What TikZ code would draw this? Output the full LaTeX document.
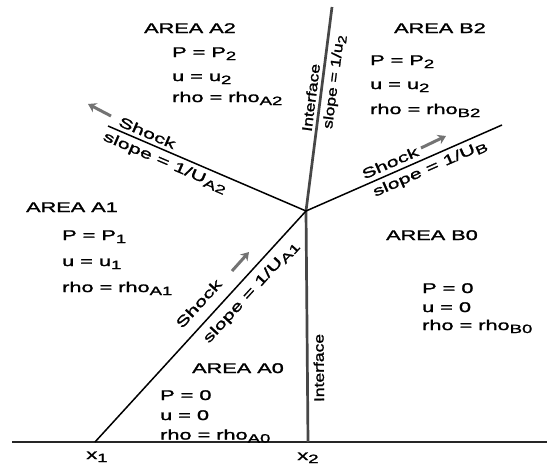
\documentclass[tikz,border=0pt]{standalone}
\usepackage{fontspec}
\setmainfont{Liberation Sans}
\newfontfamily\hfont[FakeStretch=1.55,FakeBold=1.6]{Liberation Sans}
\newfontfamily\vfont[FakeStretch=1.25,FakeBold=1.6]{Liberation Sans}
\usetikzlibrary{arrows.meta}
\newcommand{\sbs}[1]{\raisebox{-3pt}{\fontsize{12}{12}\selectfont #1}}
\begin{document}
\begin{tikzpicture}[x=1pt,y=-1pt,
  txt/.style={font=\hfont\fontsize{14}{16}\selectfont, inner sep=0pt, anchor=base west},
  ttl/.style={font=\hfont\fontsize{14}{16}\selectfont, inner sep=0pt, anchor=base},
  shockline/.style={line width=1.5pt, black},
  ifline/.style={line width=2.7pt, black!72},
  axisline/.style={line width=1.6pt, black!85},
  dirarrow/.style={line width=3pt, black!55, -{Stealth[length=8pt,width=10pt]}},
  slbl/.style={font=\hfont\fontsize{14}{16}\selectfont, sloped, text=black},
  vlbl/.style={font=\vfont\fontsize{14}{16}\selectfont, sloped, allow upside down, text=black},
]
\useasboundingbox (0,0) rectangle (547,471);
\fill[white] (0,0) rectangle (547,471);

% key points
\coordinate (O) at (306,211);
\coordinate (X1) at (95,442);
\coordinate (X2) at (308,442);
\coordinate (T) at (332,7);
\coordinate (A2e) at (108,126);
\coordinate (Be) at (502,125);
\coordinate (AxL) at (12,442);
\coordinate (AxR) at (547,442);

% axis
\draw[axisline] (AxL) -- (AxR);

% interfaces
\draw[ifline] (X2) -- node[vlbl, pos=0.32, below, inner sep=5pt] {Interface} (O);
\draw[ifline] (O) -- node[vlbl, pos=0.55, above, inner sep=3pt] {Interface}
                     node[vlbl, pos=0.64, below, inner sep=4pt] {slope = 1/u\sbs{2}} (T);

% shocks
\draw[shockline] (X1) -- node[slbl, pos=0.55, above, inner sep=11pt] {Shock}
                        node[slbl, pos=0.69, below, inner sep=7pt] {slope = 1/U\sbs{A1}} (O);
\draw[shockline] (A2e) -- node[slbl, pos=0.18, above, inner sep=3.5pt] {Shock}
                         node[slbl, pos=0.31, below, inner sep=4pt] {slope = 1/U\sbs{A2}} (O);
\draw[shockline] (O) -- node[slbl, pos=0.45, above, inner sep=4.5pt] {Shock}
                       node[slbl, pos=0.61, below, inner sep=4pt] {slope = 1/U\sbs{B}} (Be);

% direction arrows
\coordinate (aA2t) at (111,116); \coordinate (aA2h) at (88,104);
\coordinate (aBt) at (421,148);  \coordinate (aBh) at (446,136);
\coordinate (aA1t) at (232,271); \coordinate (aA1h) at (249,252);
\draw[dirarrow] (aA2t) -- (aA2h);
\draw[dirarrow] (aBt) -- (aBh);
\draw[dirarrow] (aA1t) -- (aA1h);

% AREA A2
\node[ttl] (a2t) at (190,33) {AREA A2};
\node[txt] (a2p) at (172,57) {P = P\sbs{2}};
\node[txt] (a2u) at (172,81) {u = u\sbs{2}};
\node[txt] (a2r) at (172,102) {rho = rho\sbs{A2}};

% AREA B2
\node[ttl] (b2t) at (440,33) {AREA B2};
\node[txt] (b2p) at (370,65) {P = P\sbs{2}};
\node[txt] (b2u) at (370,89) {u = u\sbs{2}};
\node[txt] (b2r) at (370,114) {rho = rho\sbs{B2}};

% AREA A1
\node[ttl] (a1t) at (72,212) {AREA A1};
\node[txt] (a1p) at (62,240) {P = P\sbs{1}};
\node[txt] (a1u) at (62,266) {u = u\sbs{1}};
\node[txt] (a1r) at (62,292) {rho = rho\sbs{A1}};

% AREA A0
\node[ttl] (a0t) at (238,373) {AREA A0};
\node[txt] (a0p) at (160,400) {P = 0};
\node[txt] (a0u) at (160,420) {u = 0};
\node[txt] (a0r) at (160,439.5) {rho = rho\sbs{A0}};

% AREA B0
\node[ttl] (b0t) at (432,240) {AREA B0};
\node[txt] (b0p) at (422,293) {P = 0};
\node[txt] (b0u) at (422,312) {u = 0};
\node[txt] (b0r) at (422,330) {rho = rho\sbs{B0}};

% axis labels
\node[ttl] (x1) at (97,459) {x\sbs{1}};
\node[ttl] (x2) at (308,460) {x\sbs{2}};
\end{tikzpicture}
\end{document}
